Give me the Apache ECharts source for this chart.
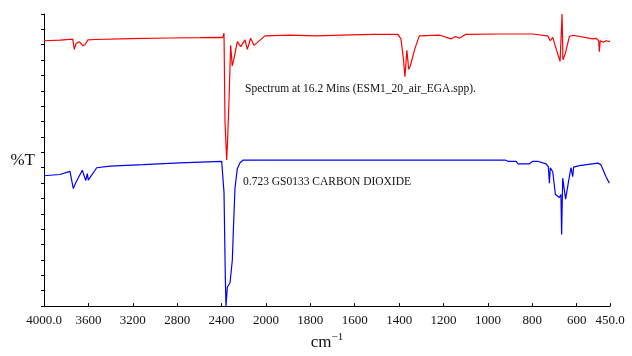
<!DOCTYPE html>
<html>
<head>
<meta charset="utf-8">
<script src="https://cdn.jsdelivr.net/npm/echarts@6/dist/echarts.min.js"></script>
<style>
html,body{margin:0;padding:0;background:#fff;}
#chart{width:632px;height:356px;}
</style>
</head>
<body>
<div id="chart"></div>
<script>
// Sample spectrum (red), wavenumber in cm-1 and %T (arbitrary offset scale)
var redWavenumbers = [4000,3856,3741,3727,3712,3682,3651,3631,3604,3540,3225,2865,2594,2414,2390,2378,2369,2354,2345,2340,2330,2318,2304,2294,2288,2258,2228,2189,2168,2138,2108,2009,1892,1775,1576,1513,1504,1495,1406,1392,1381,1374,1365,1357,1350,1342,1329,1309,1216,1166,1147,1129,1099,946,798,731,719,708,693,675,666,662,651,633,618,528,513,501,498,494,480,468,460,450];
var redValues = [86.3,86.5,86.8,83.5,85.3,86.0,84.7,85.0,86.6,86.7,87.0,87.2,87.3,87.4,87.3,88.75,59.8,47.5,54.7,59.8,70.3,84.8,78.1,77.8,80.5,86.0,84.4,86.6,83.5,87.1,84.8,87.9,88.1,87.9,88.3,88.4,89.0,88.4,88.4,86.9,80.6,74.6,83.2,77.0,78.0,77.5,83.75,87.9,88.1,86.9,87.7,87.1,88.4,88.5,88.5,87.9,86.3,87.4,83.75,79.6,95.0,80.1,82.2,87.7,88.1,86.9,87.1,86.3,82.7,86.3,85.8,86.3,85.8,86.0];
// Reference spectrum (blue): 0.723 GS0133 CARBON DIOXIDE
var blueWavenumbers = [4000,3856,3766,3736,3712,3655,3624,3610,3601,3525,3405,3108,2775,2399,2390,2378,2366,2360,2348,2324,2303,2294,2279,2258,2234,2204,1396,922,910,873,864,815,798,776,738,728,723,719,708,696,678,671,668,663,650,638,626,618,614,588,505,491,468,453];
var blueValues = [42.4,42.8,43.8,38.2,40.3,44.2,40.8,43.1,41.0,45.0,45.5,46.0,46.6,47.1,47.1,36.9,8.75,0,6.2,7.5,15,24.4,38.4,44.7,46.6,47.5,47.5,47.5,47.1,47.1,46.25,46.25,47.1,47.1,46.25,45.4,40,45,43.7,36.3,35.3,36.3,23.3,41.6,34.8,40,45,42.1,45.2,45.7,46.5,46.0,42.1,40];
var redLabel = 'Spectrum at 16.2 Mins (ESM1_20_air_EGA.spp).';
var blueLabel = '0.723 GS0133 CARBON DIOXIDE';

// Piecewise wavenumber scale: 4000-2000 compressed 2x, 2000-450 full
function toAxis(w){ return w >= 2000 ? (4000 - w) / 2 : 1000 + (2000 - w); }
function fromAxis(t){ return t <= 1000 ? 4000 - 2 * t : 3000 - t; }
function pairs(ws, vs){ return ws.map(function(w,i){ return [toAxis(w), vs[i]]; }); }

var chart = echarts.init(document.getElementById('chart'));
var serif = 'Liberation Serif';
chart.setOption({
  animation:false,
  backgroundColor:'#fff',
  grid:{left:44,right:22,top:14,bottom:38},
  xAxis:{
    type:'value', min:0, max:toAxis(450), interval:200,
    name:'{a|cm}{b|−1}', nameLocation:'middle', nameGap:22,
    nameTextStyle:{rich:{a:{fontFamily:serif,fontSize:17,color:'#111',verticalAlign:'bottom'},b:{fontFamily:serif,fontSize:11,color:'#111',verticalAlign:'top',padding:[0,0,8,0]}}},
    axisLine:{show:true,lineStyle:{color:'#000',width:1}},
    axisTick:{show:true,inside:true,length:3,lineStyle:{color:'#000'}},
    splitLine:{show:false},
    axisLabel:{showMinLabel:true,showMaxLabel:true,margin:8,fontFamily:serif,fontSize:13,color:'#111',
      formatter:function(v){ var w=Math.round(fromAxis(v)); if(w===4000||w===450) return w.toFixed(1); return String(w);} }
  },
  yAxis:{
    type:'value', min:0, max:95, interval:5,
    name:'%T', nameLocation:'middle', nameRotate:0, nameGap:9,
    nameTextStyle:{fontFamily:serif,fontSize:17,color:'#111'},
    axisLine:{show:true,lineStyle:{color:'#000',width:1}},
    axisTick:{show:true,inside:false,length:3,lineStyle:{color:'#000'}},
    axisLabel:{show:false},
    splitLine:{show:false}
  },
  graphic:[
    {type:'text',left:245,top:83,style:{text:redLabel,fontFamily:serif,fontSize:11.5,fill:'#111'}},
    {type:'text',left:243,top:176,style:{text:blueLabel,fontFamily:serif,fontSize:11.5,fill:'#111'}}
  ],
  series:[
    {type:'line',data:pairs(redWavenumbers,redValues),showSymbol:false,lineStyle:{color:'#ff0000',width:1.2}},
    {type:'line',data:pairs(blueWavenumbers,blueValues),showSymbol:false,lineStyle:{color:'#0000ff',width:1.2}}
  ]
});
</script>
</body>
</html>
